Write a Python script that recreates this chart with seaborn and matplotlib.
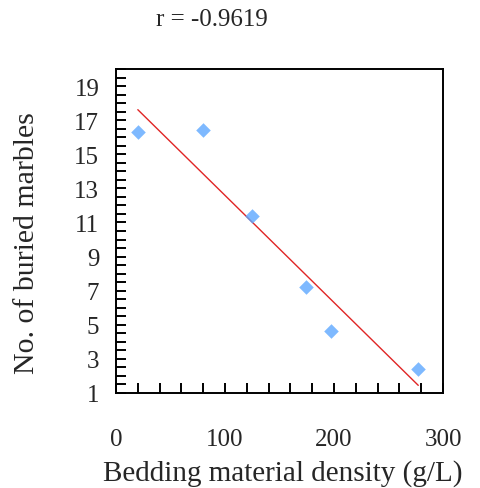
import numpy as np
import pandas as pd
import matplotlib
matplotlib.use("Agg")
import matplotlib.pyplot as plt
from matplotlib.ticker import MultipleLocator
import seaborn as sns

# values
density = [20, 80, 124.5, 174.3, 197.2, 277.3]
marbles = [16.3, 16.4, 11.4, 7.2, 4.65, 2.4]
r_text = "r = -0.9619"

df = pd.DataFrame({"density": density, "marbles": marbles})

sns.set_style("white")
plt.rcParams['font.family'] = ['Liberation Serif', 'DejaVu Serif']

fig = plt.figure(figsize=(4.81, 4.89), dpi=100)
ax = fig.add_axes([0.2412, 0.1943, 0.6798, 0.6626])

sns.regplot(data=df, x="density", y="marbles", ax=ax, ci=None,
            marker="D", color="#5ea8ff",
            scatter_kws={"s": 55, "linewidths": 0, "zorder": 3},
            line_kws={"color": "#e02525", "lw": 1.0, "zorder": 2})

ax.set_xlim(0, 300)
ax.set_ylim(1, 20)
ax.xaxis.set_major_locator(MultipleLocator(100))
ax.xaxis.set_minor_locator(MultipleLocator(20))
ax.set_yticks(np.arange(1, 20, 2))
ax.yaxis.set_minor_locator(MultipleLocator(0.5))

ax.tick_params(which="both", direction="in", length=7, width=1.4, color="black")
ax.tick_params(axis="x", which="both", bottom=True, labelsize=18, pad=25)
ax.tick_params(axis="y", which="both", left=True, labelsize=18, pad=12)
for s in ax.spines.values():
    s.set_color("black")
    s.set_linewidth(1.4)

ax.set_xlabel("Bedding material density (g/L)", fontsize=21)
ax.set_ylabel("No. of buried marbles", fontsize=21.5)
ax.xaxis.set_label_coords(0.51, -0.204)
ax.yaxis.set_label_coords(-0.232, 0.466)

fig.text(212 / 481, 1 - 20 / 489, r_text, fontsize=18, ha="center", va="center")

fig.savefig("out.png", dpi=100)
